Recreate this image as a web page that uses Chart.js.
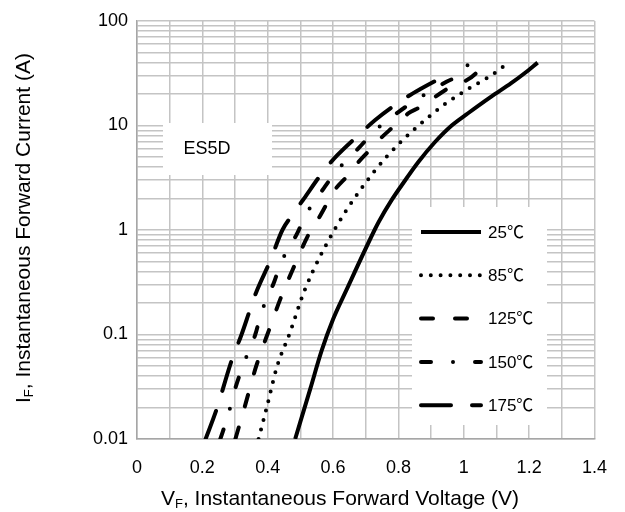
<!DOCTYPE html>
<html>
<head>
<meta charset="utf-8">
<script src="https://cdn.jsdelivr.net/npm/chart.js@4.4.0/dist/chart.umd.min.js"></script>
<style>
  html, body { margin: 0; padding: 0; background: #fff; }
  #wrap { width: 625px; height: 512px; }
</style>
</head>
<body>
<div id="wrap"><canvas id="ivChart" width="625" height="512"></canvas></div>
<script>
// forward voltage (V) and forward current (A)
const vf25 = [0.484, 0.53, 0.565, 0.60, 0.64, 0.727, 0.74, 0.78, 0.81, 0.861, 0.912, 0.963, 1.013, 1.084, 1.145, 1.186, 1.226];
const if25 = [0.01, 0.03, 0.07, 0.14, 0.263, 1, 1.2, 1.95, 2.68, 4.48, 6.95, 10, 13.1, 18.9, 25.4, 31.6, 40];

const vf85 = [0.372, 0.397, 0.429, 0.466, 0.514, 0.604, 0.725, 0.804, 0.871, 0.942, 1.022, 1.072, 1.1, 1.123];
const if85 = [0.01, 0.02, 0.05, 0.1, 0.27, 1, 3.6, 6.8, 10.6, 16, 23.2, 28.6, 32.7, 37];

const vf125 = [0.301, 0.329, 0.365, 0.407, 0.442, 0.476, 0.526, 0.555, 0.608, 0.64, 0.673, 0.707, 0.745, 0.78, 0.831, 0.866, 0.947, 1.039, 1.059];
const if125 = [0.01, 0.02, 0.05, 0.117, 0.233, 0.414, 0.92, 1.28, 2.48, 3.2, 4.3, 5.6, 7.5, 9.46, 13.1, 15.0, 22.2, 32, 39.9];

const vf150 = [0.255, 0.278, 0.30, 0.326, 0.362, 0.38, 0.42, 0.44, 0.491, 0.514, 0.572, 0.608, 0.681, 0.721, 0.802, 0.851, 0.947, 0.991, 1.015];
const if150 = [0.01, 0.0166, 0.03, 0.052, 0.1, 0.16, 0.32, 0.48, 0.94, 1.35, 2.52, 3.59, 6.2, 8.5, 13.6, 17.3, 26.2, 31.1, 39];

const vf175 = [0.21, 0.243, 0.29, 0.32, 0.346, 0.364, 0.408, 0.445, 0.481, 0.511, 0.572, 0.613, 0.689, 0.729, 0.815, 0.866, 0.958];
const if175 = [0.01, 0.019, 0.057, 0.1, 0.173, 0.25, 0.51, 1.0, 1.47, 2.0, 3.7, 5.2, 8.7, 11.3, 17.8, 22.2, 31.7];

const seriesLabels = ['25℃', '85℃', '125℃', '150℃', '175℃'];
const yDecades = [0.01, 0.1, 1, 10];
const yMax = 100;
const partName = 'ES5D';
const xTitle = ['V', 'F', ', Instantaneous Forward Voltage (V)'];
const yTitle = ['I', 'F', ', Instantaneous Forward Current (A)'];

const FONT = "'Liberation Sans', Arial, 'Noto Sans CJK SC', sans-serif";
Chart.defaults.font.family = FONT;
Chart.defaults.color = '#000';

function pts(vs, is) {
  return vs.map((v, i) => ({ x: v, y: is[i] }));
}

function curve(label, vs, is, dash) {
  return {
    label: label,
    data: pts(vs, is),
    borderColor: '#000',
    borderWidth: 4,
    borderDash: dash,
    borderCapStyle: dash.length ? 'round' : 'butt',
    borderJoinStyle: 'round',
    pointRadius: 0,
    fill: false,
    cubicInterpolationMode: 'monotone'
  };
}

const datasets = [
  curve(seriesLabels[0], vf25, if25, []),
  curve(seriesLabels[1], vf85, if85, [0, 9.8]),
  curve(seriesLabels[2], vf125, if125, [12, 22]),
  curve(seriesLabels[3], vf150, if150, [10, 22, 0, 22]),
  curve(seriesLabels[4], vf175, if175, [30, 21])
];

// log grid: 1..9 in every decade
const yTicks = [];
yDecades.forEach(d => { for (let k = 1; k < 10; k++) yTicks.push(+(d * k).toPrecision(3)); });
yTicks.push(yMax);

function isDecade(v) {
  const l = Math.log10(v);
  return Math.abs(l - Math.round(l)) < 1e-9;
}

function drawSubText(ctx, parts, size) {
  // main letter, subscript, rest, drawn centred on (0,0)
  const big = size + 'px ' + FONT;
  const small = Math.round(size * 0.62) + 'px ' + FONT;
  ctx.font = big;
  const w0 = ctx.measureText(parts[0]).width;
  const w2 = ctx.measureText(parts[2]).width;
  ctx.font = small;
  const w1 = ctx.measureText(parts[1]).width;
  let x = -(w0 + w1 + w2) / 2;
  ctx.textBaseline = 'alphabetic';
  ctx.textAlign = 'left';
  ctx.font = big;
  ctx.fillText(parts[0], x, size * 0.36);
  x += w0;
  ctx.font = small;
  ctx.fillText(parts[1], x, size * 0.36 + size * 0.18);
  x += w1;
  ctx.font = big;
  ctx.fillText(parts[2], x, size * 0.36);
}

const overlay = {
  id: 'overlay',
  afterDatasetsDraw(chart) {
    const ctx = chart.ctx;
    ctx.save();

    // part number box
    ctx.fillStyle = '#fff';
    ctx.fillRect(163, 123, 109, 52);
    ctx.fillStyle = '#000';
    ctx.font = '18px ' + FONT;
    ctx.textAlign = 'center';
    ctx.textBaseline = 'middle';
    ctx.fillText(partName, 207, 149);

    // legend box
    ctx.fillStyle = '#fff';
    ctx.fillRect(412, 207, 135, 218);
    chart.data.datasets.forEach((ds, i) => {
      const y = 232 + i * 43.3;
      ctx.save();
      ctx.strokeStyle = '#000';
      ctx.lineWidth = 4;
      ctx.lineCap = ds.borderCapStyle;
      ctx.setLineDash(ds.borderDash);
      ctx.beginPath();
      ctx.moveTo(421, y);
      ctx.lineTo(481, y);
      ctx.stroke();
      ctx.restore();
      ctx.fillStyle = '#000';
      ctx.font = '17px ' + FONT;
      ctx.textAlign = 'left';
      ctx.textBaseline = 'middle';
      ctx.fillText(ds.label, 488, y + 1);
    });

    // axis titles
    ctx.fillStyle = '#000';
    ctx.save();
    ctx.translate(340, 497);
    drawSubText(ctx, xTitle, 21);
    ctx.restore();
    ctx.save();
    ctx.translate(22, 228);
    ctx.rotate(-Math.PI / 2);
    drawSubText(ctx, yTitle, 21);
    ctx.restore();
    ctx.restore();
  }
};

const ctx = document.getElementById('ivChart').getContext('2d');
const ivChart = new Chart(ctx, {
  type: 'line',
  data: { datasets: datasets },
  options: {
    responsive: false,
    animation: false,
    devicePixelRatio: 1,
    layout: { padding: { top: 21, right: 28, left: 0, bottom: 0 } },
    plugins: {
      legend: { display: false },
      tooltip: { enabled: false }
    },
    scales: {
      x: {
        type: 'linear',
        min: 0,
        max: 1.4,
        afterFit: s => { s.height = 73; },
        grid: { color: '#c4c4c4', lineWidth: 1.5, drawTicks: false },
        border: { color: '#a6a6a6', width: 1.5 },
        ticks: {
          stepSize: 0.1,
          autoSkip: false,
          maxRotation: 0,
          padding: 18,
          font: { size: 18 },
          callback: v => {
            const k = Math.round(v * 10);
            return k % 2 === 0 ? String(k / 10) : '';
          }
        }
      },
      y: {
        type: 'logarithmic',
        min: 0.01,
        max: yMax,
        afterFit: s => { s.width = 137; },
        afterBuildTicks: s => { s.ticks = yTicks.map(v => ({ value: v })); },
        grid: { color: '#c4c4c4', lineWidth: 1.5, drawTicks: false },
        border: { color: '#a6a6a6', width: 1.5 },
        ticks: {
          autoSkip: false,
          padding: 9,
          font: { size: 18 },
          callback: v => isDecade(v) ? String(v) : ''
        }
      }
    }
  },
  plugins: [overlay]
});
</script>
</body>
</html>
